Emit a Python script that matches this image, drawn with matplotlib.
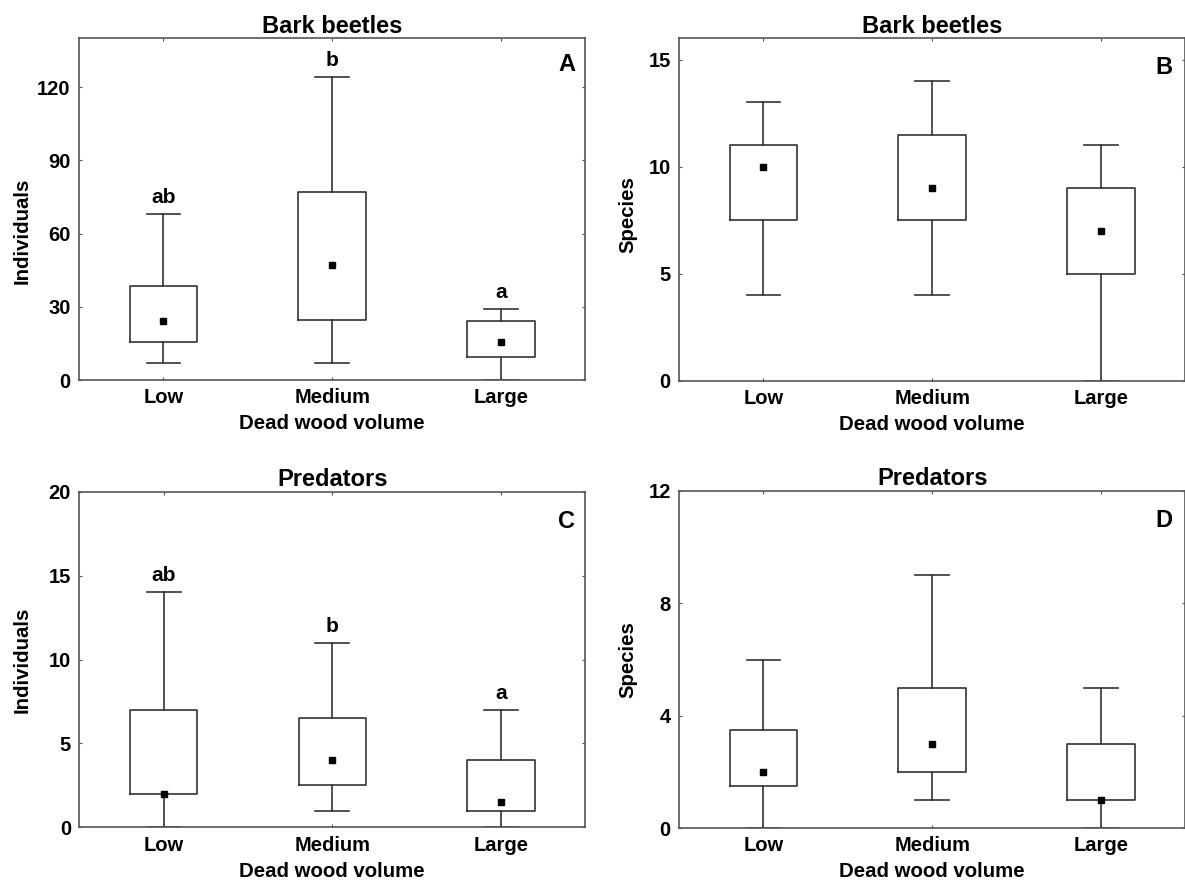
import matplotlib
matplotlib.use("Agg")
import matplotlib.pyplot as plt

plt.rcParams['font.family'] = ['Liberation Sans', 'DejaVu Sans']
plt.rcParams['font.weight'] = 'bold'

categories = ["Low", "Medium", "Large"]
xlabel = "Dead wood volume"

# Panel A: Bark beetles, individuals
a_min = [7, 7, 0]
a_q1 = [15.5, 24.5, 9.5]
a_med = [24, 47, 15.5]
a_q3 = [38.5, 77, 24]
a_max = [68, 124, 29]
a_letters = ["ab", "b", "a"]

# Panel B: Bark beetles, species
b_min = [4, 4, 0]
b_q1 = [7.5, 7.5, 5]
b_med = [10, 9, 7]
b_q3 = [11, 11.5, 9]
b_max = [13, 14, 11]

# Panel C: Predators, individuals
c_min = [0, 1, 0]
c_q1 = [2, 2.5, 1]
c_med = [2, 4, 1.5]
c_q3 = [7, 6.5, 4]
c_max = [14, 11, 7]
c_letters = ["ab", "b", "a"]

# Panel D: Predators, species
d_min = [0, 1, 0]
d_q1 = [1.5, 2, 1]
d_med = [2, 3, 1]
d_q3 = [3.5, 5, 3]
d_max = [6, 9, 5]

panels = [
    dict(title="Bark beetles", ylabel="Individuals", tag="A", ylim=140, yticks=[0, 30, 60, 90, 120],
         mn=a_min, q1=a_q1, med=a_med, q3=a_q3, mx=a_max, letters=a_letters,
         rect=[79, 38.3, 506.3, 341.7], tagpos=(0.963, 0.922), ylx=22, yly=0.436),
    dict(title="Bark beetles", ylabel="Species", tag="B", ylim=16, yticks=[0, 5, 10, 15],
         mn=b_min, q1=b_q1, med=b_med, q3=b_q3, mx=b_max, letters=None,
         rect=[679, 38.3, 506.3, 342.4], tagpos=(0.958, 0.915), ylx=628, yly=0.484),
    dict(title="Predators", ylabel="Individuals", tag="C", ylim=20, yticks=[0, 5, 10, 15, 20],
         mn=c_min, q1=c_q1, med=c_med, q3=c_q3, mx=c_max, letters=c_letters,
         rect=[79.3, 491.7, 506, 335.6], tagpos=(0.963, 0.91), ylx=22, yly=0.5),
    dict(title="Predators", ylabel="Species", tag="D", ylim=12, yticks=[0, 4, 8, 12],
         mn=d_min, q1=d_q1, med=d_med, q3=d_q3, mx=d_max, letters=None,
         rect=[679, 491, 506.3, 337], tagpos=(0.958, 0.912), ylx=628, yly=0.5),
]

W, H = 1185, 881
fig = plt.figure(figsize=(W / 100, H / 100), dpi=100)

line_c = "#333333"
spine_c = "#555555"

for p in panels:
    x0, y0, w, h = p["rect"]
    ax = fig.add_axes([x0 / W, 1 - (y0 + h) / H, w / W, h / H])
    stats = []
    for i in range(3):
        stats.append(dict(whislo=p["mn"][i], q1=p["q1"][i], med=p["med"][i], mean=p["med"][i],
                          q3=p["q3"][i], whishi=p["mx"][i], fliers=[]))
    ax.bxp(stats, positions=[1, 2, 3], widths=0.4, capwidths=0.2, showmeans=True,
           showfliers=False, patch_artist=False,
           boxprops=dict(color=line_c, linewidth=1.2),
           whiskerprops=dict(color=line_c, linewidth=1.2),
           capprops=dict(color=line_c, linewidth=1.2),
           medianprops=dict(linewidth=0),
           meanprops=dict(marker='s', markerfacecolor='black', markeredgecolor='black', markersize=5))
    ax.set_xlim(0.5, 3.5)
    ax.set_ylim(0, p["ylim"])
    ax.set_yticks(p["yticks"])
    ax.set_xticks([1, 2, 3])
    ax.set_xticklabels(categories)
    ax.tick_params(axis='both', which='both', direction='in', length=2.5, width=0.8, color=spine_c,
                   labelsize=14.5, top=True, right=True, pad=6)
    for lab in ax.get_xticklabels() + ax.get_yticklabels():
        lab.set_fontweight('bold')
    for s in ax.spines.values():
        s.set_color(spine_c)
        s.set_linewidth(1.2)
    ax.set_title(p["title"], fontsize=17, fontweight='bold', pad=4)
    ax.set_xlabel(xlabel, fontsize=14.7, fontweight='bold', labelpad=5)
    ax.set_ylabel(p["ylabel"], fontsize=14.7, fontweight='bold')
    ax.yaxis.set_label_coords((p["ylx"] - x0) / w, p["yly"])
    ax.yaxis.label.set_verticalalignment('center')
    ax.text(p["tagpos"][0], p["tagpos"][1], p["tag"], transform=ax.transAxes, fontsize=17,
            fontweight='bold', ha='center', va='center')
    if p["letters"]:
        for i, t in enumerate(p["letters"]):
            ax.annotate(t, xy=(i + 1, p["mx"][i]), xytext=(0, 12), textcoords='offset points',
                        ha='center', va='center', fontsize=15, fontweight='bold')

fig.savefig("out.png", dpi=100)
